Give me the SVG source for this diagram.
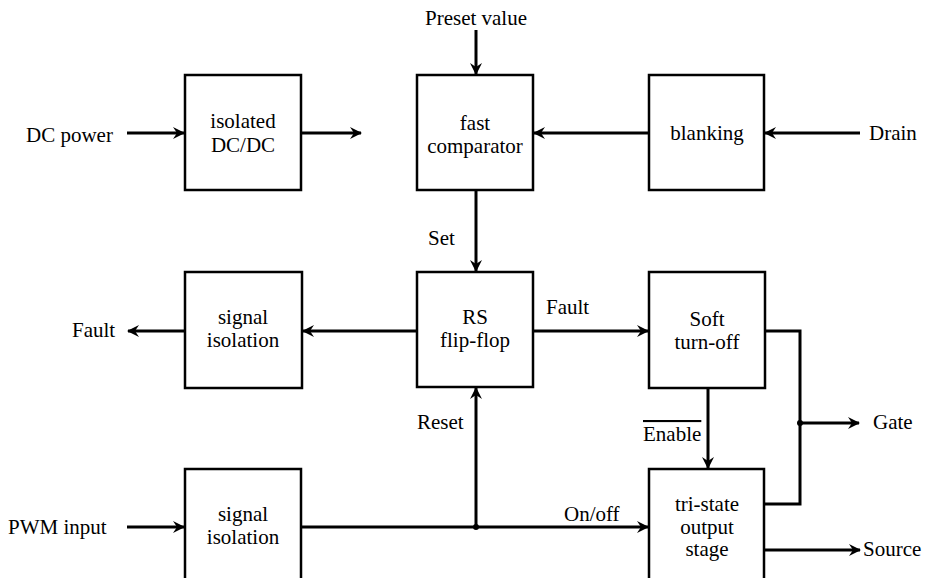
<svg xmlns="http://www.w3.org/2000/svg" width="926" height="578" viewBox="0 0 926 578" font-family="Liberation Serif, Times New Roman, serif">
<defs>
<style>
.box{fill:#fff;stroke:#000;stroke-width:2.5}
.w{fill:none;stroke:#000;stroke-width:3}
text{font-size:21px;fill:#000}
.c{text-anchor:middle}
</style>
<marker id="ah" markerUnits="userSpaceOnUse" markerWidth="16" markerHeight="14" viewBox="-13 -7 16 14" refX="0" refY="0" orient="auto">
<path d="M1,0 L-11,-6 L-7,0 L-11,6 Z" fill="#000"/>
</marker>
</defs>
<rect width="926" height="578" fill="#fff"/>
<g id="connectors">
<line class="w" x1="127" y1="133" x2="184" y2="133" marker-end="url(#ah)"/>
<line class="w" x1="301" y1="133" x2="361" y2="133" marker-end="url(#ah)"/>
<line class="w" x1="476" y1="30" x2="476" y2="74" marker-end="url(#ah)"/>
<line class="w" x1="649" y1="133" x2="534" y2="133" marker-end="url(#ah)"/>
<line class="w" x1="860" y1="133" x2="765" y2="133" marker-end="url(#ah)"/>
<line class="w" x1="476" y1="190" x2="476" y2="271" marker-end="url(#ah)"/>
<line class="w" x1="417" y1="331" x2="303" y2="331" marker-end="url(#ah)"/>
<line class="w" x1="185" y1="331" x2="128" y2="331" marker-end="url(#ah)"/>
<line class="w" x1="533" y1="331" x2="648" y2="331" marker-end="url(#ah)"/>
<polyline class="w" points="765,331 800,331 800,504 764,504"/>
<line class="w" x1="800" y1="423" x2="859" y2="423" marker-end="url(#ah)"/>
<circle cx="800" cy="423" r="3" fill="#000"/>
<line class="w" x1="708" y1="388" x2="708" y2="468" marker-end="url(#ah)"/>
<line class="w" x1="127" y1="527" x2="184" y2="527" marker-end="url(#ah)"/>
<line class="w" x1="301" y1="527" x2="648" y2="527" marker-end="url(#ah)"/>
<line class="w" x1="476" y1="527" x2="476" y2="388" marker-end="url(#ah)"/>
<circle cx="476" cy="527" r="3" fill="#000"/>
<line class="w" x1="764" y1="550" x2="860" y2="550" marker-end="url(#ah)"/>
</g>
<g id="dcdc">
<rect class="box" x="185" y="75" width="116" height="115"/>
<text class="c" x="243" y="128">isolated</text>
<text class="c" x="243" y="152">DC/DC</text>
</g>
<g id="comparator">
<rect class="box" x="417" y="75" width="116" height="115"/>
<text class="c" x="475" y="130">fast</text>
<text class="c" x="475" y="153">comparator</text>
</g>
<g id="blanking">
<rect class="box" x="649" y="75" width="115" height="115"/>
<text class="c" x="707" y="140">blanking</text>
</g>
<g id="sigiso1">
<rect class="box" x="185" y="272" width="117" height="116"/>
<text class="c" x="243" y="324">signal</text>
<text class="c" x="243" y="347">isolation</text>
</g>
<g id="rsff">
<rect class="box" x="417" y="272" width="116" height="115"/>
<text class="c" x="475" y="324">RS</text>
<text class="c" x="475" y="347">flip-flop</text>
</g>
<g id="softoff">
<rect class="box" x="649" y="272" width="116" height="116"/>
<text class="c" x="707" y="326">Soft</text>
<text class="c" x="707" y="349">turn-off</text>
</g>
<g id="sigiso2">
<rect class="box" x="185" y="469" width="116" height="116"/>
<text class="c" x="243" y="521">signal</text>
<text class="c" x="243" y="544">isolation</text>
</g>
<g id="tristate">
<rect class="box" x="649" y="469" width="115" height="116"/>
<text class="c" x="707" y="511">tri-state</text>
<text class="c" x="707" y="534">output</text>
<text class="c" x="707" y="556">stage</text>
</g>
<g id="labels">
<text x="26" y="142">DC power</text>
<text class="c" x="476" y="25">Preset value</text>
<text x="869" y="140">Drain</text>
<text x="428" y="245">Set</text>
<text x="72" y="337">Fault</text>
<text x="546" y="314">Fault</text>
<text x="873" y="429">Gate</text>
<text x="643" y="441" text-decoration="overline">Enable</text>
<text x="417" y="429">Reset</text>
<text x="8" y="534">PWM input</text>
<text x="564" y="521">On/off</text>
<text x="863" y="556">Source</text>
</g>
</svg>
